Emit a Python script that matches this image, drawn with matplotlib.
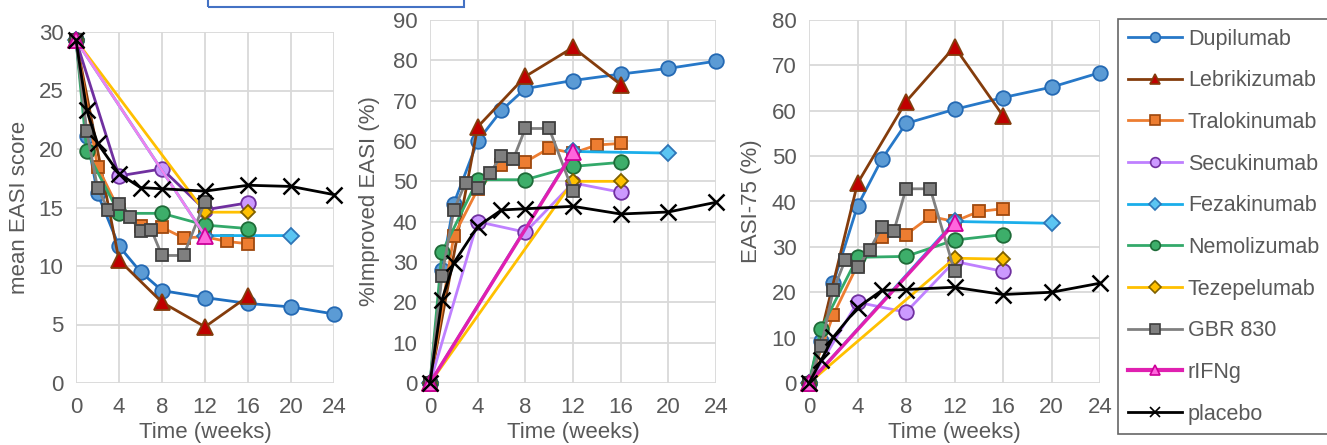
import matplotlib
matplotlib.use('Agg')
import matplotlib.pyplot as plt
from matplotlib.lines import Line2D
from matplotlib.patches import Rectangle

plt.rcParams['font.family'] = ['Liberation Sans', 'DejaVu Sans']

# ── datos ───────────────────────────────────────────────────────────────────
farmacos = ['Dupilumab', 'Lebrikizumab', 'Tralokinumab', 'Secukinumab', 'Fezakinumab',
            'Nemolizumab', 'Tezepelumab', 'GBR 830', 'rIFNg', 'placebo']

semanas = {
    'Dupilumab':    [0, 1, 2, 4, 6, 8, 12, 16, 20, 24],
    'Lebrikizumab': [0, 4, 8, 12, 16],
    'Tralokinumab': [0, 2, 4, 6, 8, 10, 12, 14, 16],
    'Secukinumab':  [0, 4, 8, 12, 16],
    'Fezakinumab':  [0, 12, 20],
    'Nemolizumab':  [0, 1, 4, 8, 12, 16],
    'Tezepelumab':  [0, 12, 16],
    'GBR 830':      [0, 1, 2, 3, 4, 5, 6, 7, 8, 10, 12],
    'rIFNg':        [0, 12],
    'placebo':      [0, 1, 2, 4, 6, 8, 12, 16, 20, 24],
}

easi_medio = {
    'Dupilumab':    [29.3, 21.1, 16.2, 11.7, 9.5, 7.9, 7.3, 6.8, 6.5, 5.9],
    'Lebrikizumab': [29.3, 10.5, 6.9, 4.8, 7.4],
    'Tralokinumab': [29.3, 18.5, 14.8, 13.4, 13.3, 12.4, 12.5, 12.1, 11.9],
    'Secukinumab':  [29.3, 17.7, 18.3, 14.8, 15.4],
    'Fezakinumab':  [29.3, 12.6, 12.6],
    'Nemolizumab':  [29.3, 19.8, 14.5, 14.5, 13.5, 13.2],
    'Tezepelumab':  [29.3, 14.6, 14.6],
    'GBR 830':      [29.3, 21.5, 16.7, 14.8, 15.3, 14.2, 13.0, 13.1, 10.9, 10.9, 15.5],
    'rIFNg':        [29.3, 12.6],
    'placebo':      [29.3, 23.3, 20.5, 17.9, 16.7, 16.6, 16.4, 16.9, 16.8, 16.1],
}

mejora_easi = {
    'Dupilumab':    [0, 28.0, 44.5, 60.0, 67.6, 73.0, 75.0, 76.6, 78.0, 79.8],
    'Lebrikizumab': [0, 63.5, 76.0, 83.2, 74.0],
    'Tralokinumab': [0, 36.5, 48.0, 54.0, 54.8, 58.2, 57.0, 59.0, 59.4],
    'Secukinumab':  [0, 40.0, 37.4, 49.6, 47.3],
    'Fezakinumab':  [0, 57.4, 57.0],
    'Nemolizumab':  [0, 32.4, 50.4, 50.4, 53.7, 54.7],
    'Tezepelumab':  [0, 50.0, 50.0],
    'GBR 830':      [0, 26.6, 42.9, 49.7, 48.3, 52.0, 56.3, 55.6, 63.1, 63.1, 47.5],
    'rIFNg':        [0, 57.2],
    'placebo':      [0, 20.6, 29.8, 38.8, 42.9, 43.2, 43.8, 41.9, 42.4, 44.8],
}

easi75 = {
    'Dupilumab':    [0, 9.2, 22.0, 39.0, 49.3, 57.2, 60.3, 62.9, 65.2, 68.4],
    'Lebrikizumab': [0, 44.0, 62.0, 74.1, 58.9],
    'Tralokinumab': [0, 15.0, 26.0, 32.2, 32.7, 36.7, 35.6, 37.8, 38.4],
    'Secukinumab':  [0, 17.8, 15.6, 26.8, 24.6],
    'Fezakinumab':  [0, 35.6, 35.2],
    'Nemolizumab':  [0, 12.0, 27.7, 27.9, 31.5, 32.7],
    'Tezepelumab':  [0, 27.5, 27.3],
    'GBR 830':      [0, 8.1, 20.4, 27.2, 25.5, 29.4, 34.3, 33.5, 42.8, 42.8, 24.7],
    'rIFNg':        [0, 35.2],
    'placebo':      [0, 5.0, 10.1, 16.6, 20.4, 20.6, 21.1, 19.5, 20.0, 22.0],
}

# ── estilos tipo Excel ──────────────────────────────────────────────────────
estilo = {
    'Dupilumab':    dict(color='#2778C8', marker='o', mfc='#5B9BD5', mec='#2469B3', ms=10.5),
    'Lebrikizumab': dict(color='#843C0C', marker='^', mfc='#C00000', mec='#843C0C', ms=11.5),
    'Tralokinumab': dict(color='#ED7D31', marker='s', mfc='#ED7D31', mec='#9E480E', ms=8),
    'Secukinumab':  dict(color='#BF80FF', marker='o', mfc='#CC99FF', mec='#7030A0', ms=10.5),
    'Fezakinumab':  dict(color='#1AAEEA', marker='D', mfc='#5BC5F2', mec='#2E75B6', ms=8),
    'Nemolizumab':  dict(color='#33A96A', marker='o', mfc='#3DAE6A', mec='#1E6B38', ms=10.5),
    'Tezepelumab':  dict(color='#FFC000', marker='D', mfc='#FFC000', mec='#7F6000', ms=7.5),
    'GBR 830':      dict(color='#808080', marker='s', mfc='#7F7F7F', mec='#3F3F3F', ms=9),
    'rIFNg':        dict(color='#E020B0', marker='^', mfc='#FF66DD', mec='#CC0099', ms=11.5),
    'placebo':      dict(color='#000000', marker='x', mfc='none', mec='#000000', ms=12),
}
# en el primer panel algunas líneas tienen otro tono
estilo_p1 = {'Secukinumab': '#7030A0', 'rIFNg': '#EE82EE', 'Dupilumab': '#1F6FC0'}

gris_texto = '#595959'

fig = plt.figure(figsize=(13.27, 4.45), dpi=100)
W, H = 1327, 445

paneles = [
    (easi_medio, (76, 334, 32, 383), 30, 5, 'mean EASI score', 20),
    (mejora_easi, (430, 716, 20, 383), 90, 10, '%Improved EASI (%)', 369),
    (easi75, (809, 1100, 20, 383), 80, 10, 'EASI-75 (%)', 751),
]

for k, (datos, (x0, x1, y0, y1), ymax, paso, ylabel, xlab) in enumerate(paneles):
    ax = fig.add_axes([x0 / W, 1 - y1 / H, (x1 - x0) / W, (y1 - y0) / H])
    for f in farmacos:
        st = dict(estilo[f])
        if k == 0 and f in estilo_p1:
            st['color'] = estilo_p1[f]
        lw = 2.5 if f == 'rIFNg' and k > 0 else 2.0
        mew = 1.8 if f == 'placebo' else 1.3
        ax.plot(semanas[f], datos[f], lw=lw, mew=mew, clip_on=False, **st)
    ax.set_xlim(0, 24)
    ax.set_ylim(0, ymax)
    ax.set_xticks(range(0, 25, 4))
    ax.set_yticks(range(0, ymax + 1, paso))
    ax.grid(True, color='#D9D9D9', lw=1.3)
    ax.set_axisbelow(True)
    for s in ax.spines.values():
        s.set_visible(False)
    ax.tick_params(length=0, labelsize=16, labelcolor=gris_texto)
    ax.tick_params(axis='x', pad=10)
    ax.tick_params(axis='y', pad=9)
    ax.set_xlabel('Time (weeks)', fontsize=16, color=gris_texto, labelpad=3)
    fig.text(xlab / W, 1 - ((y0 + y1) / 2) / H, ylabel, rotation=90, fontsize=16,
             color=gris_texto, ha='center', va='center')

# ── leyenda ────────────────────────────────────────────────────────────────
handles = []
for f in farmacos:
    st = dict(estilo[f])
    st['ms'] = 7 if st['marker'] != 'D' else 6
    lw = 3 if f == 'rIFNg' else 2.0
    handles.append(Line2D([], [], lw=lw, mew=1.2, **st))
leg = fig.legend(handles, farmacos, loc='upper left',
                 bbox_to_anchor=(1118 / W, 1 - 19 / H), borderaxespad=0,
                 fontsize=15.5, handlelength=2.5, handletextpad=0.3,
                 labelspacing=0.96, borderpad=0.45, fancybox=False, frameon=True)
leg.get_frame().set_edgecolor('#404040')
leg.get_frame().set_linewidth(1.2)
for t in leg.get_texts():
    t.set_color(gris_texto)

# recuadro azul cortado en la parte superior
fig.patches.append(Rectangle((208 / W, 1 - 7 / H), 256 / W, 20 / H,
                             transform=fig.transFigure, fill=False,
                             edgecolor='#4472C4', lw=1.5))

fig.savefig('out.png', dpi=100)
